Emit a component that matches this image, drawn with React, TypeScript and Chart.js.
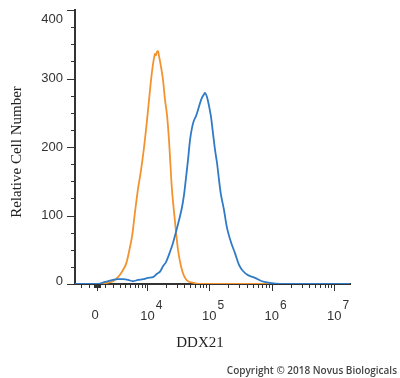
import React, { useEffect, useRef } from "react";
import { Chart, registerables } from "chart.js";

Chart.register(...registerables);

// x values are in display units of the biexponential axis (asinh(v / C) / ln 10)
const BLUE_X = [-0.352, 0.016, 0.128, 0.256, 0.336, 0.416, 0.496, 0.576, 0.656, 0.736, 0.816, 0.896, 0.96, 1.008, 1.056, 1.104, 1.168, 1.216, 1.264, 1.312, 1.36, 1.392, 1.424, 1.456, 1.488, 1.52, 1.552, 1.584, 1.616, 1.648, 1.68, 1.712, 1.728, 1.76, 1.792, 1.824, 1.856, 1.888, 1.92, 1.952, 1.984, 2.032, 2.08, 2.144, 2.208, 2.272, 2.336, 2.416, 2.528, 2.64, 2.768, 2.928, 4.048];
const BLUE_Y = [0, 0, 3, 6, 7, 7, 6, 4, 6, 7, 9, 10, 15, 18, 26, 32, 47, 60, 76, 93, 112, 130, 155, 181, 210, 228, 239, 245, 254, 264, 272, 277, 279, 273, 260, 244, 220, 196, 177, 152, 130, 108, 82, 61, 45, 28, 19, 13, 9, 4, 1.5, 0, 0];

const ORANGE_X = [-0.352, 0.048, 0.16, 0.256, 0.336, 0.4, 0.464, 0.512, 0.56, 0.608, 0.656, 0.704, 0.752, 0.8, 0.848, 0.88, 0.912, 0.928, 0.944, 0.96, 0.976, 0.992, 1.024, 1.056, 1.088, 1.12, 1.152, 1.2, 1.248, 1.296, 1.344, 1.392, 1.456, 1.552, 1.648, 4.048];
const ORANGE_Y = [0, 0, 1.5, 4, 10, 18, 29, 47, 69, 105, 139, 166, 199, 239, 283, 310, 330, 336, 334, 339, 340, 333, 317, 298, 269, 247, 210, 137, 91, 50, 26, 12, 4, 1.5, 0, 0];

const Y_TICKS = [0, 100, 200, 300, 400];
const X_MAJOR = [0, 1e4, 1e5, 1e6, 1e7];
const X_LABEL_BASE = ["0", "10", "10", "10", "10"];
const X_LABEL_EXP = ["", "4", "5", "6", "7"];

const C = 3200;
const toDisplay = (v: number) => Math.asinh(v / C) / Math.LN10;

const X_MIN = -0.352;
const X_MAX = 4.048;

const minorValues = (): number[] => {
  const out: number[] = [100, 200, 300, 400, -100, -200, -300, -400];
  for (let k = 3; k <= 6; k++) {
    for (let m = 1; m <= 9; m++) {
      const v = m * Math.pow(10, k);
      if (X_MAJOR.indexOf(v) >= 0) continue;
      out.push(v);
      out.push(-v);
    }
  }
  return out;
};

const decorations = {
  id: "decorations",
  afterDraw(chart: any) {
    const { ctx, chartArea } = chart;
    const x = chart.scales.x;
    const y = chart.scales.y;
    ctx.save();
    ctx.strokeStyle = "#333";
    ctx.lineWidth = 1;
    const line = (x1: number, y1: number, x2: number, y2: number) => {
      ctx.beginPath();
      ctx.moveTo(x1, y1);
      ctx.lineTo(x2, y2);
      ctx.stroke();
    };
    // y ticks
    for (let v = 0; v <= 400; v += 25) {
      const py = Math.round(y.getPixelForValue(v)) + 0.5;
      const len = v % 100 === 0 ? 8 : 4;
      line(chartArea.left - len, py, chartArea.left, py);
    }
    // x ticks
    const bottom = chartArea.bottom;
    minorValues().forEach((v) => {
      const u = toDisplay(v);
      if (u < X_MIN || u > X_MAX) return;
      const px = Math.round(x.getPixelForValue(u)) + 0.5;
      line(px, bottom, px, bottom + 4);
    });
    X_MAJOR.forEach((v) => {
      const px = Math.round(x.getPixelForValue(toDisplay(v))) + 0.5;
      line(px, bottom, px, bottom + 7);
    });
    // y labels
    ctx.fillStyle = "#333";
    ctx.font = '13px "Liberation Sans", Arial, sans-serif';
    ctx.textAlign = "right";
    ctx.textBaseline = "middle";
    Y_TICKS.forEach((v) => {
      let py = y.getPixelForValue(v);
      if (v === 400) py += 9;
      if (v === 0) py -= 3;
      ctx.fillText(String(v), chartArea.left - 12, py);
    });
    // x labels
    X_MAJOR.forEach((v, i) => {
      const px = x.getPixelForValue(toDisplay(v));
      const base = X_LABEL_BASE[i];
      const exp = X_LABEL_EXP[i];
      ctx.font = '13px "Liberation Sans", Arial, sans-serif';
      ctx.textAlign = "center";
      ctx.textBaseline = "middle";
      if (!exp) {
        ctx.fillText(base, px - 2, bottom + 31);
      } else {
        ctx.fillText(base, px, bottom + 32);
        const w = ctx.measureText(base).width;
        ctx.font = '12px "Liberation Sans", Arial, sans-serif';
        ctx.textAlign = "left";
        ctx.fillText(exp, px + w / 2 + 1, bottom + 22);
      }
    });
    // axis titles
    ctx.fillStyle = "#222";
    ctx.font = '15px "Liberation Serif", "Times New Roman", serif';
    ctx.textAlign = "center";
    ctx.textBaseline = "middle";
    ctx.fillText("DDX21", 200, 343);
    ctx.save();
    ctx.translate(17, 152);
    ctx.rotate(-Math.PI / 2);
    ctx.fillText("Relative Cell Number", 0, 0);
    ctx.restore();
    // copyright
    ctx.fillStyle = "#444";
    ctx.font = '600 10px "Open Sans", sans-serif';
    ctx.textAlign = "right";
    ctx.fillText("Copyright \u00A9 2018 Novus Biologicals", 397, 371);
    ctx.restore();
  },
};

export default function App() {
  const ref = useRef<HTMLCanvasElement | null>(null);
  useEffect(() => {
    if (!ref.current) return;
    const chart = new Chart(ref.current, {
      type: "line",
      data: {
        datasets: [
          {
            label: "DDX21",
            data: BLUE_X.map((v, i) => ({ x: v, y: BLUE_Y[i] })),
            borderColor: "#2f7bc6",
            borderWidth: 1.8,
            pointRadius: 0,
            tension: 0.3,
            fill: false,
          },
          {
            label: "Control",
            data: ORANGE_X.map((v, i) => ({ x: v, y: ORANGE_Y[i] })),
            borderColor: "#f3932f",
            borderWidth: 1.8,
            pointRadius: 0,
            tension: 0.3,
            fill: false,
          },
        ],
      },
      options: {
        animation: false,
        responsive: false,
        devicePixelRatio: 1,
        layout: { padding: { top: 10, right: 50, left: 0, bottom: 0 } },
        plugins: { legend: { display: false }, tooltip: { enabled: false } },
        scales: {
          x: {
            type: "linear",
            min: X_MIN,
            max: X_MAX,
            grid: { display: false },
            border: { display: true, color: "#333", width: 2 },
            ticks: { display: false },
            afterFit: (s: any) => {
              s.height = 94;
            },
          },
          y: {
            type: "linear",
            min: 0,
            max: 400,
            grid: { display: false },
            border: { display: true, color: "#333", width: 2 },
            ticks: { display: false },
            afterFit: (s: any) => {
              s.width = 75;
            },
          },
        },
      },
      plugins: [decorations],
    });
    return () => chart.destroy();
  }, []);
  return (
    <div style={{ position: "fixed", left: 0, top: 0, width: 400, height: 378, background: "#fff" }}>
      <canvas ref={ref} width={400} height={378} />
    </div>
  );
}
